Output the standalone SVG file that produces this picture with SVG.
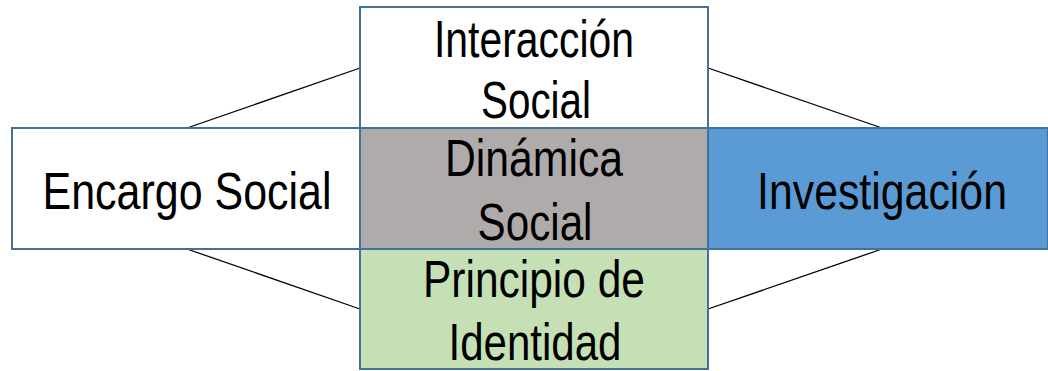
<svg xmlns="http://www.w3.org/2000/svg" width="1048" height="371" viewBox="0 0 1048 371">
<style>
.box{stroke:#41719C;stroke-width:2}
.lbl{font-family:"Liberation Sans Narrow","Liberation Sans",Arial,sans-serif;font-size:52px;fill:#000;text-anchor:middle}
.conn{stroke:#000;stroke-width:1.3;fill:none}
</style>
<rect width="1048" height="371" fill="#fff"/>
<g id="connectors">
<line class="conn" x1="187" y1="128" x2="360" y2="68"/>
<line class="conn" x1="187" y1="249" x2="360" y2="309"/>
<line class="conn" x1="708" y1="68" x2="882" y2="128"/>
<line class="conn" x1="708" y1="309" x2="882" y2="249"/>
</g>
<g id="encargo">
<rect class="box" x="12" y="128" width="348" height="121" fill="#fff"/>
<text class="lbl" x="187" y="209" textLength="289" lengthAdjust="spacingAndGlyphs">Encargo Social</text>
</g>
<g id="investigacion">
<rect class="box" x="708" y="128" width="340" height="121" fill="#5B9BD5"/>
<text class="lbl" x="882" y="209" textLength="250" lengthAdjust="spacingAndGlyphs">Investigación</text>
</g>
<g id="interaccion">
<rect class="box" x="360" y="7" width="348" height="121" fill="#fff"/>
<text class="lbl" x="534" y="57" textLength="200" lengthAdjust="spacingAndGlyphs">Interacción</text>
<text class="lbl" x="536" y="118" textLength="110" lengthAdjust="spacingAndGlyphs">Social</text>
</g>
<g id="dinamica">
<rect class="box" x="360" y="128" width="348" height="121" fill="#AFABAB"/>
<text class="lbl" x="534" y="176" textLength="178" lengthAdjust="spacingAndGlyphs">Dinámica</text>
<text class="lbl" x="535" y="240" textLength="115" lengthAdjust="spacingAndGlyphs">Social</text>
</g>
<g id="principio">
<rect class="box" x="360" y="249" width="348" height="120" fill="#C5E0B4"/>
<text class="lbl" x="534" y="297" textLength="222" lengthAdjust="spacingAndGlyphs">Principio de</text>
<text class="lbl" x="535" y="360" textLength="173" lengthAdjust="spacingAndGlyphs">Identidad</text>
</g>
</svg>
